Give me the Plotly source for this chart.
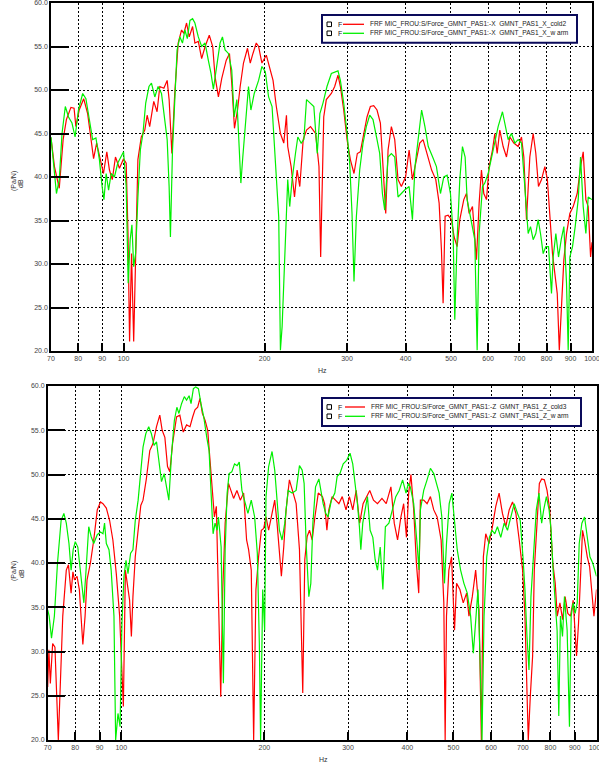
import math
import plotly.graph_objects as go

W, H = 599, 769

# ---- FRF levels, dB re 1 Pa/N, versus frequency in Hz -------------------
# X excitation, cold run 2
x_cold2 = [
    (70.0, 44.5), (71.2, 41.2), (72.9, 38.7), (74.3, 44.3), (75.5, 46.6), (77.2, 48.0),
    (78.4, 47.9), (79.1, 45.8), (80.4, 47.7), (82.2, 49.0), (83.8, 47.3), (85.2, 44.3),
    (86.3, 42.1), (87.6, 43.9), (89.1, 42.3), (90.6, 40.4), (92.1, 42.9), (93.3, 40.8),
    (94.6, 39.7), (96.1, 42.3), (98.0, 41.0), (100.0, 42.1), (101.3, 41.6), (102.2, 33.5),
    (103.0, 21.1), (104.0, 31.2), (105.1, 21.1), (106.1, 29.7), (107.3, 42.0), (109.1, 44.6),
    (111.0, 45.4), (112.3, 47.1), (113.7, 45.8), (116.0, 48.7), (117.9, 47.5), (119.5, 50.4),
    (121.9, 50.2), (123.9, 51.1), (125.1, 48.9), (126.8, 42.7), (128.6, 49.6), (130.8, 55.4),
    (133.0, 56.9), (134.5, 56.5), (136.3, 57.7), (138.1, 56.1), (140.4, 57.3), (142.0, 55.4),
    (144.4, 55.6), (146.8, 53.6), (149.3, 55.0), (152.4, 56.3), (155.0, 55.0), (156.8, 51.5),
    (159.4, 49.2), (162.0, 51.3), (165.6, 53.4), (168.3, 54.2), (170.2, 50.8), (172.5, 45.6),
    (175.1, 47.7), (177.4, 50.4), (180.3, 53.1), (183.9, 54.8), (186.4, 53.1), (188.9, 54.2),
    (192.0, 55.4), (194.2, 55.0), (197.4, 53.1), (201.7, 54.0), (205.0, 52.7), (208.5, 51.1),
    (211.9, 48.1), (216.2, 45.0), (219.8, 43.9), (222.7, 47.1), (224.1, 43.5), (227.9, 41.2),
    (231.7, 37.7), (234.7, 40.8), (237.8, 38.9), (241.8, 44.3), (245.8, 45.4), (250.7, 45.8),
    (257.0, 45.0), (261.3, 41.2), (263.5, 30.8), (265.5, 40.0), (267.5, 46.9), (270.9, 48.9),
    (277.7, 49.6), (282.3, 50.4), (286.9, 51.7), (290.3, 50.4), (295.1, 47.7), (300.0, 44.3),
    (304.9, 42.0), (310.4, 40.4), (315.5, 42.7), (320.2, 42.9), (325.6, 45.0), (330.9, 46.9),
    (336.4, 48.1), (342.0, 48.2), (347.6, 47.7), (353.4, 46.2), (358.0, 41.2), (362.8, 35.8),
    (367.0, 43.1), (373.0, 45.8), (379.2, 44.3), (385.4, 39.7), (391.8, 38.9), (400.0, 40.0),
    (407.0, 43.1), (413.7, 39.7), (421.9, 42.0), (428.8, 43.9), (435.9, 44.3), (444.6, 42.7),
    (454.6, 40.8), (464.0, 39.7), (471.7, 37.0), (477.1, 31.6), (481.0, 25.5), (485.8, 35.5),
    (493.0, 35.6), (501.2, 35.1), (507.8, 33.1), (515.3, 32.0), (522.1, 35.1), (532.5, 37.4),
    (539.5, 38.1), (546.6, 35.8), (555.7, 36.6), (566.7, 30.5), (574.2, 37.0), (580.8, 40.8),
    (587.5, 38.1), (595.3, 37.4), (603.1, 41.2), (613.1, 43.1), (620.2, 45.0), (627.4, 42.7),
    (635.6, 45.4), (646.1, 43.5), (656.8, 42.3), (667.7, 44.6), (680.9, 43.9), (695.6, 43.5),
    (707.1, 44.6), (715.3, 42.3), (724.7, 35.1), (736.7, 42.3), (748.9, 45.0), (758.7, 42.7),
    (768.7, 38.9), (780.2, 39.7), (793.1, 41.2), (803.0, 39.7), (812.8, 35.8), (823.5, 31.2),
    (833.1, 28.9), (843.0, 26.6), (851.5, 20.1), (860.1, 25.1), (870.8, 30.5), (882.3, 33.5),
    (896.9, 35.8), (911.7, 36.6), (929.8, 38.1), (945.3, 41.2), (957.7, 42.9), (970.3, 37.4),
    (981.5, 36.6), (993.1, 30.8), (1000.0, 32.5),
]

# X excitation, warm run
x_warm = [
    (70.0, 44.6), (71.1, 40.4), (71.9, 38.1), (72.9, 39.7), (73.9, 45.0), (75.1, 48.1),
    (76.3, 46.9), (77.6, 46.2), (78.8, 44.6), (80.1, 47.7), (81.8, 49.6), (83.1, 49.0),
    (84.5, 46.6), (85.9, 44.3), (87.3, 44.5), (88.8, 42.0), (90.0, 38.9), (90.8, 37.4),
    (91.8, 40.4), (92.9, 38.5), (94.1, 40.4), (95.6, 40.0), (97.2, 41.6), (98.9, 42.3),
    (100.0, 42.9), (101.3, 38.9), (102.3, 27.8), (103.3, 32.8), (104.2, 34.5), (105.1, 29.7),
    (106.1, 31.2), (107.3, 37.7), (108.6, 43.1), (110.0, 45.0), (111.5, 48.5), (113.3, 50.4),
    (114.7, 50.8), (116.6, 49.2), (118.5, 50.4), (120.5, 49.6), (122.5, 46.2), (123.9, 44.3),
    (125.1, 38.9), (125.9, 33.1), (127.2, 43.1), (128.6, 49.6), (130.1, 54.6), (131.9, 56.1),
    (133.6, 55.4), (135.2, 56.9), (136.8, 55.9), (138.6, 58.0), (140.4, 58.2), (142.0, 57.7),
    (144.4, 56.1), (146.8, 55.0), (149.3, 55.4), (151.7, 53.4), (153.7, 51.9), (155.5, 50.1),
    (158.1, 52.7), (160.7, 55.4), (162.6, 56.1), (164.7, 54.6), (167.4, 54.2), (170.2, 52.3),
    (172.2, 46.9), (174.5, 48.9), (176.2, 44.3), (178.0, 39.3), (179.7, 42.3), (181.8, 45.4),
    (184.8, 50.4), (187.0, 47.7), (190.1, 49.6), (194.2, 51.1), (197.4, 52.7), (200.7, 52.1),
    (204.0, 49.2), (207.5, 48.1), (209.9, 43.9), (212.6, 38.5), (214.4, 35.4), (216.2, 20.1),
    (218.0, 22.8), (219.8, 27.8), (221.6, 33.5), (224.1, 39.7), (226.3, 36.6), (229.0, 39.7),
    (232.8, 42.7), (235.5, 44.6), (239.4, 43.9), (242.6, 44.3), (245.8, 48.9), (249.9, 48.5),
    (254.8, 48.1), (259.1, 42.7), (262.5, 47.3), (266.5, 48.5), (271.8, 50.4), (277.7, 51.9),
    (282.3, 52.1), (286.9, 52.2), (290.3, 51.1), (295.1, 48.5), (300.0, 45.0), (303.9, 41.6),
    (307.4, 35.8), (310.4, 28.0), (314.0, 35.4), (319.2, 40.8), (324.5, 43.9), (329.8, 45.8),
    (335.3, 47.1), (340.8, 46.6), (347.6, 44.3), (352.2, 42.7), (356.9, 38.1), (361.0, 36.2),
    (367.0, 42.3), (373.0, 42.7), (379.2, 42.3), (385.4, 37.7), (391.8, 38.1), (398.2, 38.5),
    (407.0, 38.9), (413.7, 35.1), (418.9, 41.2), (425.7, 44.3), (432.8, 47.7), (439.9, 45.8),
    (447.2, 43.5), (456.9, 42.3), (465.5, 41.2), (474.8, 38.1), (482.6, 40.0), (490.6, 40.2),
    (498.7, 38.1), (505.3, 33.5), (509.4, 23.6), (515.3, 32.8), (522.1, 39.7), (529.0, 43.5),
    (536.0, 42.3), (541.3, 37.4), (548.4, 35.8), (555.7, 34.3), (562.1, 32.8), (568.6, 20.1),
    (574.2, 33.5), (583.7, 38.9), (590.5, 39.3), (600.2, 40.4), (610.1, 42.3), (620.2, 44.3),
    (630.4, 45.8), (644.0, 47.5), (651.4, 46.2), (662.2, 44.3), (673.2, 45.0), (684.3, 43.9),
    (695.6, 44.3), (707.1, 43.9), (715.3, 40.4), (722.3, 36.6), (730.7, 33.5), (739.1, 34.3),
    (748.9, 32.8), (758.7, 33.5), (767.5, 35.1), (776.4, 33.5), (786.6, 31.2), (797.0, 32.0),
    (807.5, 32.0), (819.5, 26.6), (826.3, 30.8), (837.2, 33.5), (848.3, 30.8), (859.5, 32.8),
    (870.8, 34.3), (882.3, 27.8), (889.6, 20.1), (896.9, 30.8), (908.7, 32.0), (920.7, 34.3),
    (934.4, 37.4), (945.3, 42.3), (957.7, 36.6), (970.3, 33.5), (981.5, 37.7), (1000.0, 37.4),
]

# Z excitation, cold run 3
z_cold3 = [
    (70.0, 26.0), (70.4, 30.2), (70.9, 26.4), (71.7, 30.9), (72.5, 30.5), (73.7, 20.0),
    (75.3, 34.0), (76.6, 39.2), (77.4, 39.8), (78.4, 36.6), (79.1, 39.0), (79.7, 38.1),
    (80.7, 38.5), (81.6, 37.0), (83.0, 30.8), (83.9, 34.0), (84.7, 38.1), (86.1, 40.0),
    (87.5, 42.6), (89.0, 46.0), (90.4, 46.9), (91.5, 46.7), (93.0, 46.2), (94.5, 44.8),
    (96.0, 42.6), (97.6, 38.8), (99.2, 34.0), (100.3, 27.9), (101.0, 23.8), (102.0, 39.2),
    (103.0, 37.7), (104.1, 35.8), (105.0, 31.7), (105.8, 36.2), (107.0, 40.7), (108.5, 44.1),
    (109.9, 46.5), (111.1, 47.1), (112.9, 49.5), (114.8, 52.7), (116.6, 53.5), (118.6, 55.4),
    (120.5, 56.7), (121.9, 55.0), (123.5, 54.2), (125.1, 50.9), (126.5, 50.3), (128.2, 53.5),
    (130.7, 56.5), (132.8, 56.7), (135.0, 54.8), (137.2, 55.6), (139.5, 55.4), (141.3, 56.5),
    (142.9, 57.3), (144.8, 57.6), (146.4, 58.6), (148.1, 56.9), (150.1, 56.1), (152.0, 55.0),
    (153.8, 51.2), (155.6, 48.6), (157.0, 45.2), (158.5, 46.4), (160.1, 37.7), (161.9, 24.9),
    (163.5, 37.0), (165.4, 44.5), (168.1, 49.0), (170.3, 48.2), (172.3, 47.3), (175.1, 48.2),
    (178.0, 47.1), (180.9, 47.9), (183.5, 42.6), (185.3, 41.5), (187.7, 39.2), (189.9, 20.0),
    (192.0, 37.0), (194.5, 40.7), (197.1, 43.7), (199.4, 43.9), (201.6, 45.2), (204.2, 43.7),
    (207.6, 45.6), (210.3, 47.1), (212.7, 44.5), (215.1, 41.5), (217.2, 38.5), (219.7, 41.8),
    (222.2, 46.0), (225.8, 49.4), (229.5, 47.9), (233.3, 46.7), (237.1, 41.5), (239.4, 31.7),
    (240.9, 25.3), (243.3, 40.4), (246.1, 43.0), (248.9, 43.7), (252.2, 42.6), (255.5, 45.2),
    (259.7, 47.9), (265.0, 47.5), (267.8, 46.7), (270.8, 43.7), (273.3, 46.0), (277.7, 47.5),
    (282.3, 47.1), (287.0, 46.7), (291.7, 47.5), (297.1, 46.0), (302.0, 47.5), (307.0, 46.0),
    (312.1, 48.2), (317.4, 44.5), (322.7, 46.7), (328.0, 47.5), (333.3, 48.2), (339.4, 47.1),
    (346.0, 46.7), (353.6, 47.3), (361.0, 46.7), (369.3, 48.6), (375.3, 44.5), (381.4, 42.6),
    (387.6, 45.2), (392.8, 46.7), (398.2, 42.9), (402.5, 47.9), (406.9, 50.0), (412.4, 46.0),
    (417.8, 40.0), (422.6, 36.6), (426.0, 47.1), (432.9, 47.1), (440.0, 46.7), (447.2, 47.5),
    (454.5, 46.0), (462.0, 45.2), (471.0, 42.6), (477.2, 35.5), (480.3, 20.0), (483.4, 34.0),
    (489.0, 39.2), (495.4, 40.7), (502.6, 32.4), (507.6, 37.7), (515.9, 37.0), (524.3, 35.5),
    (532.9, 36.6), (539.0, 34.0), (547.8, 36.2), (556.8, 39.2), (565.9, 34.7), (572.4, 20.0),
    (578.0, 40.7), (584.7, 43.3), (594.2, 42.2), (603.9, 44.1), (613.8, 46.4), (623.8, 47.9),
    (634.0, 45.6), (644.4, 44.1), (655.0, 46.0), (665.7, 46.9), (676.6, 45.6), (687.7, 42.6),
    (699.0, 39.2), (707.0, 34.0), (713.9, 25.7), (718.5, 20.0), (725.5, 24.9), (733.8, 29.5),
    (739.8, 39.2), (749.5, 44.1), (758.1, 49.0), (766.8, 49.5), (776.7, 49.4), (786.9, 48.2),
    (797.2, 46.0), (809.1, 40.0), (818.8, 37.7), (826.8, 34.0), (837.6, 35.5), (848.6, 33.6),
    (859.0, 36.2), (870.2, 34.3), (881.6, 34.0), (893.2, 35.8), (901.9, 31.7), (907.8, 29.5),
    (916.6, 33.2), (925.6, 39.2), (934.6, 43.7), (943.8, 42.6), (956.2, 40.7), (967.1, 39.6),
    (978.2, 36.2), (987.7, 34.0), (1000.0, 37.0),
]

# Z excitation, warm run
z_warm = [
    (70.0, 34.7), (70.5, 34.0), (71.3, 31.5), (72.3, 34.0), (73.4, 40.0), (74.7, 44.8),
    (75.7, 45.6), (76.6, 44.5), (77.6, 42.2), (78.4, 39.2), (79.2, 41.5), (80.0, 42.4),
    (81.0, 41.8), (82.1, 38.8), (83.4, 35.5), (84.3, 39.2), (85.4, 44.1), (86.4, 43.0),
    (87.5, 42.2), (89.0, 43.2), (90.4, 43.5), (91.5, 43.3), (92.2, 44.5), (93.0, 42.2),
    (94.2, 41.5), (95.2, 39.2), (96.5, 34.0), (97.3, 20.0), (98.4, 23.0), (99.4, 21.5),
    (100.3, 33.2), (101.3, 38.5), (102.3, 40.3), (103.3, 38.8), (104.6, 41.1), (105.8, 41.5),
    (107.0, 44.8), (108.5, 47.1), (109.9, 50.5), (111.1, 53.1), (112.6, 54.6), (114.2, 55.4),
    (115.7, 54.6), (117.2, 53.3), (118.6, 53.7), (120.0, 51.6), (121.5, 49.2), (123.1, 50.1),
    (124.7, 48.6), (125.9, 47.1), (127.6, 52.4), (129.3, 56.1), (130.9, 57.6), (132.2, 56.9),
    (133.9, 58.0), (135.7, 58.8), (137.2, 58.4), (138.9, 58.9), (140.2, 58.0), (141.8, 59.7),
    (143.4, 59.9), (145.3, 59.7), (147.1, 58.0), (149.1, 56.5), (151.3, 54.2), (153.0, 52.7),
    (154.5, 47.9), (156.0, 43.3), (157.5, 44.5), (159.1, 43.7), (160.1, 45.2), (162.2, 41.8),
    (164.0, 26.4), (165.4, 41.5), (167.0, 47.9), (168.6, 50.1), (170.8, 50.3), (173.1, 51.2),
    (175.3, 51.0), (177.1, 51.4), (179.4, 48.2), (181.7, 47.1), (184.7, 45.6), (187.7, 47.1),
    (190.8, 45.2), (193.3, 41.1), (195.2, 30.9), (196.4, 20.0), (198.4, 37.0), (200.3, 32.4),
    (201.6, 47.5), (204.2, 50.9), (207.6, 52.6), (210.3, 50.5), (212.7, 47.5), (215.1, 43.7),
    (217.9, 42.6), (220.8, 44.5), (224.4, 48.2), (228.8, 47.9), (233.3, 48.2), (237.1, 51.0),
    (240.2, 50.5), (242.5, 49.0), (244.9, 42.2), (248.1, 36.2), (250.5, 37.7), (253.0, 44.5),
    (256.3, 48.6), (260.5, 49.5), (265.9, 46.7), (269.3, 45.6), (272.3, 45.2), (276.8, 47.1),
    (281.4, 47.9), (284.6, 49.8), (288.4, 50.1), (293.1, 51.2), (298.0, 51.6), (302.9, 52.4),
    (306.9, 51.2), (310.9, 49.0), (314.0, 46.7), (317.0, 44.1), (319.2, 41.5), (322.2, 44.5),
    (325.9, 46.0), (329.6, 47.5), (333.9, 43.7), (338.3, 42.9), (342.1, 40.4), (346.0, 39.2),
    (350.6, 41.8), (355.2, 37.0), (359.5, 44.1), (365.7, 44.5), (371.9, 46.0), (378.1, 47.5),
    (384.4, 48.2), (390.8, 49.4), (397.3, 47.9), (401.7, 49.0), (405.7, 48.6), (412.4, 46.7),
    (419.1, 42.2), (423.1, 39.2), (426.0, 46.0), (432.9, 48.2), (440.0, 49.4), (447.2, 50.7),
    (454.5, 50.1), (460.5, 49.0), (466.5, 47.9), (472.6, 45.2), (478.7, 37.7), (483.4, 42.2),
    (489.8, 46.7), (496.2, 47.9), (502.6, 44.5), (509.2, 41.5), (517.6, 39.2), (526.0, 37.7),
    (534.6, 36.6), (543.4, 34.0), (550.5, 29.8), (556.8, 34.0), (563.1, 37.0), (568.6, 29.5),
    (574.2, 20.0), (579.9, 34.0), (587.5, 40.7), (595.1, 42.9), (602.9, 43.7), (610.8, 43.3),
    (618.8, 44.1), (628.9, 42.9), (639.2, 44.5), (649.7, 43.7), (660.3, 45.2), (671.1, 46.7),
    (682.1, 45.6), (691.1, 44.8), (700.2, 40.7), (707.0, 37.0), (714.0, 31.7), (721.0, 27.9),
    (727.9, 36.2), (737.4, 41.8), (747.0, 46.0), (756.8, 47.9), (766.6, 44.5), (774.2, 46.0),
    (784.4, 47.5), (794.8, 46.0), (802.4, 43.7), (810.3, 39.2), (818.2, 35.5), (826.2, 32.4),
    (833.0, 22.7), (839.7, 34.0), (848.1, 31.7), (856.2, 36.2), (867.4, 32.4), (877.2, 21.5),
    (884.5, 34.0), (893.2, 35.5), (901.9, 34.3), (910.8, 35.5), (919.7, 42.2), (931.6, 44.5),
    (943.8, 45.2), (956.2, 42.9), (968.7, 40.7), (981.8, 40.0), (994.9, 38.8), (1000.0, 38.5),
]

hz_ticks = [70, 80, 90, 100, 200, 300, 400, 500, 600, 700, 800, 900, 1000]
db_ticks = [20, 25, 30, 35, 40, 45, 50, 55, 60]

top_labels = [
    "FRF MIC_FROU:S/Force_GMNT_PAS1:-X \u00a0GMNT_PAS1_X_cold2",
    "FRF MIC_FROU:S/Force_GMNT_PAS1:-X \u00a0GMNT_PAS1_X_w arm",
]
bottom_labels = [
    "FRF MIC_FROU:S/Force_GMNT_PAS1:-Z \u00a0GMNT_PAS1_Z_cold3",
    "FRF MIC_FROU:S/Force_GMNT_PAS1:-Z \u00a0GMNT_PAS1_Z_w arm",
]

RED = "#ff0000"
GREEN = "#00f000"
FONT = "Liberation Sans, Arial, sans-serif"
TICK_FONT = dict(family=FONT, size=7, color="#444444")


def px_x(p):
    return p / W


def px_y(p):
    return 1 - p / H


fig = go.Figure()

for data, color, xa, ya in [
    (x_cold2, RED, "x", "y"),
    (x_warm, GREEN, "x", "y"),
    (z_cold3, RED, "x2", "y2"),
    (z_warm, GREEN, "x2", "y2"),
]:
    f, d = zip(*data)
    fig.add_trace(go.Scatter(
        x=list(f), y=list(d), mode="lines",
        line=dict(color=color, width=1.2),
        xaxis=xa, yaxis=ya, showlegend=False, hoverinfo="skip",
    ))


def x_axis(domain, anchor):
    return dict(
        type="log", range=[math.log10(70), 3], domain=domain, anchor=anchor,
        tickvals=hz_ticks, ticktext=[str(v) for v in hz_ticks],
        ticklabeloverflow="allow", automargin=False,
        showgrid=True, gridcolor="black", griddash="2px,2px", gridwidth=1,
        showline=True, linecolor="black", linewidth=1.5, mirror=True,
        ticks="inside", ticklen=8, tickcolor="black", tickwidth=1.5,
        tickfont=TICK_FONT, zeroline=False,
    )


def y_axis(domain, anchor):
    return dict(
        range=[20, 60], domain=domain, anchor=anchor,
        tickvals=db_ticks, tickformat=".1f",
        ticklabeloverflow="allow", automargin=False,
        showgrid=True, gridcolor="black", griddash="2px,2px", gridwidth=1,
        showline=True, linecolor="black", linewidth=1.5, mirror=True,
        ticks="inside", ticklen=18, tickcolor="black", tickwidth=1.5,
        tickfont=TICK_FONT, zeroline=False,
    )


shapes = []
annotations = []


def legend_block(box, rows, labels, line_x, text_x):
    x0, x1, y0, y1 = box
    shapes.append(dict(type="rect", xref="paper", yref="paper",
                       x0=px_x(x0), x1=px_x(x1), y0=px_y(y1), y1=px_y(y0),
                       line=dict(color="#0a0a5a", width=2), fillcolor="white",
                       layer="above"))
    for ry, label, color in zip(rows, labels, [RED, GREEN]):
        shapes.append(dict(type="rect", xref="paper", yref="paper",
                           x0=px_x(327), x1=px_x(331.5), y0=px_y(ry + 2.3), y1=px_y(ry - 2.3),
                           line=dict(color="black", width=1), fillcolor="white",
                           layer="above"))
        annotations.append(dict(xref="paper", yref="paper", x=px_x(335.5), y=px_y(ry),
                                text="F", showarrow=False, xanchor="left", yanchor="middle",
                                font=dict(family=FONT, size=7, color="#222222")))
        shapes.append(dict(type="line", xref="paper", yref="paper",
                           x0=px_x(line_x[0]), x1=px_x(line_x[1]),
                           y0=px_y(ry), y1=px_y(ry),
                           line=dict(color=color, width=1.3), layer="above"))
        annotations.append(dict(xref="paper", yref="paper", x=px_x(text_x), y=px_y(ry),
                                text=label, showarrow=False, xanchor="left", yanchor="middle",
                                font=dict(family=FONT, size=6.6, color="#222222")))


legend_block((322, 577, 15, 42.7), [24.3, 33.3], top_labels, (343, 364), 368)
legend_block((322, 581, 398, 426), [407, 416.3], bottom_labels, (345, 365), 369)

for xc, yc in [(322, 370), (323, 759)]:
    annotations.append(dict(xref="paper", yref="paper", x=px_x(xc), y=px_y(yc),
                            text="Hz", showarrow=False, xanchor="center", yanchor="middle",
                            font=dict(family=FONT, size=7, color="#333333")))

for yc in [181, 571]:
    annotations.append(dict(xref="paper", yref="paper", x=px_x(14), y=px_y(yc),
                            text="(Pa/N)", textangle=-90, showarrow=False,
                            xanchor="center", yanchor="middle",
                            font=dict(family=FONT, size=7, color="#333333")))
    annotations.append(dict(xref="paper", yref="paper", x=px_x(21), y=px_y(yc + 3),
                            text="dB", textangle=-90, showarrow=False,
                            xanchor="center", yanchor="middle",
                            font=dict(family=FONT, size=7, color="#333333")))

fig.update_layout(
    width=W, height=H,
    margin=dict(l=0, r=0, t=0, b=0, autoexpand=False),
    paper_bgcolor="white", plot_bgcolor="white",
    showlegend=False,
    xaxis=x_axis([px_x(51), px_x(592)], "y"),
    yaxis=y_axis([px_y(351), px_y(3)], "x"),
    xaxis2=x_axis([px_x(47.7), px_x(596.5)], "y2"),
    yaxis2=y_axis([px_y(740), px_y(386)], "x2"),
    shapes=shapes,
    annotations=annotations,
)

fig.write_html("out.html")
